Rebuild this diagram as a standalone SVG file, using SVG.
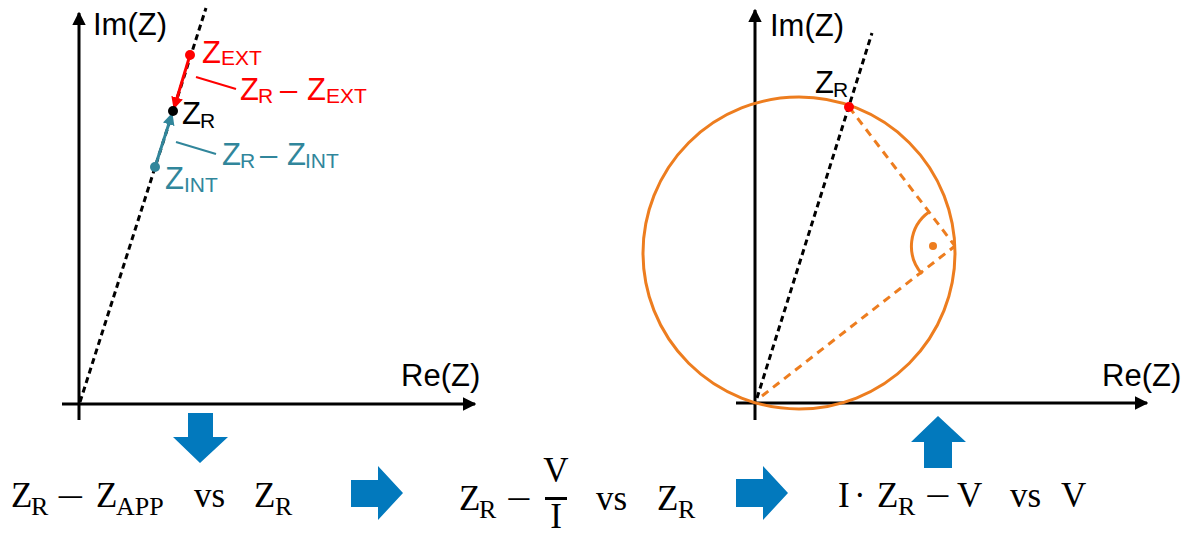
<svg xmlns="http://www.w3.org/2000/svg" width="1191" height="537" viewBox="0 0 1191 537">
<style>
.ax{stroke:#000;stroke-width:3;fill:none}
.lbl{font-family:"Liberation Sans",Arial,sans-serif;font-size:31px}
.sub{font-size:21px}
.m{font-family:"Liberation Serif","Times New Roman",serif;font-size:35px;fill:#000}
.ms{font-size:26px}
.blue{fill:#0279BD}
.dot{stroke:#000;stroke-width:3;stroke-dasharray:6 4;fill:none}
.odash{stroke:#ED7D1F;stroke-width:3;stroke-dasharray:8 6;fill:none}
</style>
<defs>
<marker id="ah" viewBox="0 0 10 10" refX="9" refY="5" markerWidth="4.5" markerHeight="4.5" orient="auto" markerUnits="strokeWidth"><path d="M0,0 L10,5 L0,10 z" fill="#000"/></marker>
<marker id="ahr" viewBox="0 0 10 10" refX="9" refY="5" markerWidth="4" markerHeight="4" orient="auto" markerUnits="strokeWidth"><path d="M0,0 L10,5 L0,10 z" fill="#FF0000"/></marker>
<marker id="aht" viewBox="0 0 10 10" refX="9" refY="5" markerWidth="4" markerHeight="4" orient="auto" markerUnits="strokeWidth"><path d="M0,0 L10,5 L0,10 z" fill="#31869B"/></marker>
</defs>

<g id="left-plot">
<line class="ax" x1="79" y1="420" x2="79" y2="13" marker-end="url(#ah)"/>
<line class="ax" x1="62" y1="404" x2="475" y2="404" marker-end="url(#ah)"/>
<line class="dot" x1="80" y1="402" x2="206" y2="8"/>
<text class="lbl" x="93" y="35">Im(Z)</text>
<text class="lbl" x="401" y="386">Re(Z)</text>
</g>

<g id="left-vectors">
<line x1="190" y1="55" x2="174" y2="108" stroke="#FF0000" stroke-width="3" marker-end="url(#ahr)"/>
<line x1="155" y1="167" x2="172" y2="114" stroke="#31869B" stroke-width="3" marker-end="url(#aht)"/>
<circle cx="190" cy="55" r="5" fill="#FF0000"/>
<circle cx="173" cy="111" r="5" fill="#000"/>
<circle cx="155" cy="167" r="5" fill="#31869B"/>
<line x1="196" y1="77" x2="236" y2="89" stroke="#FF0000" stroke-width="2"/>
<line x1="176" y1="142" x2="216" y2="154" stroke="#31869B" stroke-width="2"/>
</g>

<g id="left-labels">
<text class="lbl" fill="#FF0000" x="202" y="63">Z<tspan class="sub" dy="2">EXT</tspan></text>
<text class="lbl" fill="#FF0000" x="240" y="100">Z<tspan class="sub" x="258" y="103">R</tspan><tspan x="280" y="100">–</tspan><tspan x="307" y="100">Z</tspan><tspan class="sub" x="326" y="103">EXT</tspan></text>
<text class="lbl" fill="#000" x="182" y="124">Z<tspan class="sub" x="200" y="128">R</tspan></text>
<text class="lbl" fill="#31869B" x="222" y="165">Z<tspan class="sub" x="240" y="168">R</tspan><tspan x="260" y="165">–</tspan><tspan x="287" y="165">Z</tspan><tspan class="sub" x="305" y="168">INT</tspan></text>
<text class="lbl" fill="#31869B" x="165" y="189">Z<tspan class="sub" x="184" y="192">INT</tspan></text>
</g>

<g id="right-plot">
<line class="ax" x1="755" y1="420" x2="755" y2="10" marker-end="url(#ah)"/>
<line class="ax" x1="736" y1="403" x2="1147" y2="403" marker-end="url(#ah)"/>
<line class="dot" x1="757" y1="398" x2="872" y2="33"/>
<circle cx="799" cy="253" r="156" fill="none" stroke="#ED7D1F" stroke-width="3"/>
<line class="odash" x1="849" y1="107" x2="955" y2="246"/>
<line class="odash" x1="762" y1="396" x2="955" y2="246"/>
<path d="M929,212 A42,42 0 0,0 922,274" fill="none" stroke="#ED7D1F" stroke-width="3"/>
<circle cx="933" cy="246" r="4" fill="#ED7D1F"/>
<circle cx="849" cy="107" r="5" fill="#FF0000"/>
<text class="lbl" x="770" y="36">Im(Z)</text>
<text class="lbl" x="1102" y="386">Re(Z)</text>
<text class="lbl" x="815" y="93">Z<tspan class="sub" x="833" y="97">R</tspan></text>
</g>

<g id="arrows">
<path class="blue" d="M188,413 H213 V437 H228 L200,463 L173,437 H188 Z"/>
<path class="blue" d="M351,480 H378 V466 L403,493 L378,520 V507 H351 Z"/>
<path class="blue" d="M736,479 H763 V466 L788,493 L763,520 V507 H736 Z"/>
<path class="blue" d="M924,468 V442 H911 L938,416 L966,442 H952 V468 Z"/>
</g>

<g id="formula1">
<text class="m" x="11" y="507">Z<tspan class="ms" x="31" y="515">R</tspan><tspan x="96" y="507">Z</tspan><tspan class="ms" x="116" y="515">APP</tspan><tspan x="194" y="507">vs</tspan><tspan x="254" y="507">Z</tspan><tspan class="ms" x="275" y="515">R</tspan></text>
<text class="m" transform="translate(56,509) scale(1.45,1)">−</text>
</g>

<g id="formula2">
<text class="m" x="459" y="510">Z<tspan class="ms" x="479" y="518">R</tspan><tspan x="596" y="510">vs</tspan><tspan x="657" y="510">Z</tspan><tspan class="ms" x="678" y="518">R</tspan></text>
<text class="m" transform="translate(506,511) scale(1.3,1)">−</text>
<text class="m" x="556" y="482" text-anchor="middle">V</text>
<rect x="545" y="497" width="22" height="3" fill="#000"/>
<text class="m" x="556" y="528" text-anchor="middle">I</text>
</g>

<g id="formula3">
<text class="m" x="838" y="507">I<tspan x="854" y="507">·</tspan><tspan x="877" y="507">Z</tspan><tspan class="ms" x="898" y="515">R</tspan><tspan x="957" y="507">V</tspan><tspan x="1010" y="507">vs</tspan><tspan x="1061" y="507">V</tspan></text>
<text class="m" transform="translate(925,508) scale(1.3,1)">−</text>
</g>
</svg>
